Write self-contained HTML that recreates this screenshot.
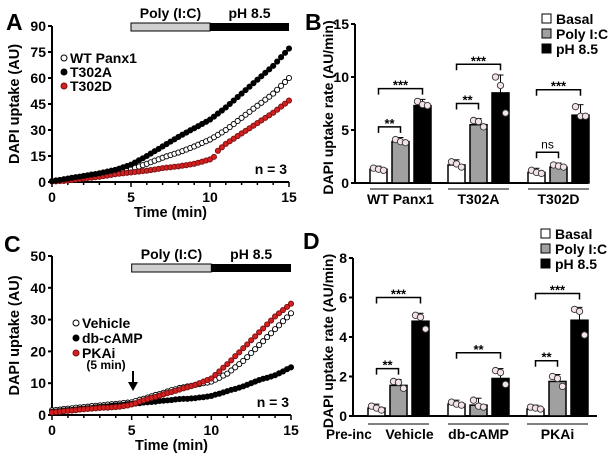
<!DOCTYPE html>
<html><head><meta charset="utf-8"><style>
html,body{margin:0;padding:0;background:#fff;}
svg{display:block;font-family:"Liberation Sans",Arial,sans-serif;font-weight:bold;}
</style></head><body>
<svg id="fig" width="608" height="460" viewBox="0 0 608 460" xmlns="http://www.w3.org/2000/svg"></svg>
<script>
// ---------- DATA ----------
const timeStep = 0.25;
const aWT = [0.5,0.7,0.9,1.1,1.4,1.6,1.9,2.1,2.4,2.8,3.1,3.5,3.9,4.3,4.7,5.1,5.5,6.0,6.5,7.0,7.5,8.2,8.9,9.7,10.5,11.4,12.3,13.1,14.0,14.8,15.5,16.3,17.0,17.8,18.7,19.6,20.5,21.5,22.5,23.5,24.5,25.8,27.2,28.6,30.0,31.7,33.4,35.2,37.0,38.8,40.5,42.3,44.0,45.7,47.5,49.2,51.0,53.2,55.5,57.7,60];
const aT302A = [0.5,0.9,1.2,1.6,2.0,2.4,2.8,3.1,3.5,3.9,4.3,4.6,5.0,5.5,6.0,6.5,7.0,7.7,8.5,9.2,10.0,11.2,12.5,13.7,15.0,16.4,17.8,19.1,20.5,21.9,23.3,24.6,26.0,27.3,28.5,29.8,31.0,32.2,33.5,34.7,36.0,37.7,39.5,41.2,43.0,45.0,47.0,49.0,51.0,53.0,55.0,57.0,59.0,61.0,63.0,65.0,67.0,69.5,72.0,74.5,77];
const aT302D = [0.3,0.4,0.5,0.6,0.8,1.1,1.4,1.7,2.0,2.3,2.5,2.8,3.0,3.4,3.7,4.1,4.5,4.8,5.0,5.3,5.5,5.8,6.0,6.3,6.5,6.9,7.2,7.6,8.0,8.3,8.5,8.8,9.0,9.4,9.7,10.1,10.5,11.1,11.7,12.4,13.0,14.5,18.0,20.0,22.0,23.5,25.0,26.5,28.0,29.5,31.0,32.5,34.0,35.5,37.0,38.5,40.0,41.7,43.5,45.2,47];
const cVehicle = [1.5,1.6,1.7,1.9,2.0,2.1,2.3,2.4,2.5,2.6,2.8,2.9,3.0,3.1,3.3,3.4,3.5,3.6,3.8,3.9,4.0,4.4,4.8,5.1,5.5,5.9,6.3,6.6,7.0,7.4,7.8,8.1,8.5,8.7,9.0,9.2,9.5,9.7,10.0,10.2,10.5,11.1,11.7,12.4,13.0,14.0,15.0,16.0,17.0,18.2,19.5,20.7,22.0,23.2,24.5,25.7,27.0,28.2,29.5,30.7,32];
const cDbcAMP = [1.0,1.1,1.2,1.4,1.5,1.6,1.7,1.9,2.0,2.1,2.2,2.4,2.5,2.6,2.7,2.9,3.0,3.1,3.2,3.4,3.5,3.6,3.7,3.9,4.0,4.1,4.2,4.4,4.5,4.6,4.7,4.9,5.0,5.1,5.1,5.2,5.3,5.5,5.6,5.8,6.0,6.4,6.7,7.1,7.5,7.9,8.2,8.6,9.0,9.5,10.0,10.5,11.0,11.4,11.7,12.1,12.5,13.1,13.7,14.4,15];
const cPKAi = [0.8,0.9,1.0,1.2,1.3,1.4,1.5,1.7,1.8,1.9,2.0,2.1,2.2,2.3,2.3,2.4,2.5,2.6,2.8,3.0,3.3,3.7,4.2,4.6,5.0,5.4,5.7,6.1,6.5,6.9,7.2,7.6,8.0,8.4,8.7,9.1,9.5,10.0,10.5,11.0,11.5,12.6,13.7,14.9,16.0,17.2,18.5,19.7,21.0,22.2,23.5,24.7,26.0,27.2,28.5,29.7,31.0,32.0,33.0,34.0,35];
const xTicks = [0,5,10,15];
const aYTicks = [0,15,30,45,60,75,90];
const cYTicks = [0,10,20,30,40,50];

const bGroups = ["WT Panx1","T302A","T302D"];
const bBasal = [1.3,1.7,1.0];
const bPoly = [3.9,5.5,1.5];
const bPH = [7.3,8.5,6.4];
const bDotsBasal = [[1.4,1.3,1.2],[2.0,1.8,1.5],[1.2,1.0,0.9]];
const bDotsPoly = [[4.1,3.9,3.8],[5.9,5.8,5.3],[1.7,1.6,1.5]];
const bDotsPH = [[7.7,7.4,7.3],[10.0,9.2,6.6],[7.2,6.3,6.3]];
const bYTicks = [0,5,10,15];
const bSig = [["**",0,1,5.3],["***",0,2,8.9],["**",0,1,7.5],["***",0,2,11.2],["ns",0,1,2.9],["***",0,2,8.8]];
const bSigGroup = [0,0,1,1,2,2];

const dGroups = ["Vehicle","db-cAMP","PKAi"];
const dBasal = [0.4,0.6,0.35];
const dPoly = [1.55,0.55,1.75];
const dPH = [4.8,1.9,4.85];
const dDotsBasal = [[0.5,0.4,0.3],[0.7,0.6,0.55],[0.45,0.4,0.35]];
const dDotsPoly = [[1.75,1.7,1.4],[0.8,0.5,0.45],[2.0,1.9,1.5]];
const dDotsPH = [[5.1,5.0,4.4],[2.3,2.2,1.6],[5.4,5.3,4.1]];
const dYTicks = [0,2,4,6,8];
const dSig = [["**",0,1,2.4],["***",0,2,6.0],["**",0,2,3.2],["**",0,1,2.8],["***",0,2,6.2]];
const dSigGroup = [0,0,1,2,2];

// ---------- HELPERS ----------
const NS="http://www.w3.org/2000/svg";
const fig=document.getElementById('fig');
function mk(tag,attrs,parent,txt){const e=document.createElementNS(NS,tag);for(const k in attrs)e.setAttribute(k,attrs[k]);if(txt!==undefined)e.textContent=txt;(parent||fig).appendChild(e);return e;}
function grp(name,parent){const g=mk('g',{},parent);return g;}
function txt(g,x,y,s,size,anchor,name,extra){const t=mk('text',Object.assign({x:x,y:y,'font-size':size,'text-anchor':anchor||'middle'},extra||{}),g,s);return t;}

function lineChart(cfg){
  const g=grp(cfg.name);
  const sx=v=>cfg.x0+(v/15)*(cfg.x1-cfg.x0);
  const sy=v=>cfg.yb-(v/cfg.ymax)*(cfg.yb-cfg.yt);
  const ax=mk('line',{x1:cfg.x0,y1:cfg.yt,x2:cfg.x0,y2:cfg.yb,stroke:'#000','stroke-width':2},g);
  
  const bx=mk('line',{x1:cfg.x0,y1:cfg.yb,x2:cfg.x1,y2:cfg.yb,stroke:'#000','stroke-width':2},g);
  
  cfg.yTicks.forEach(v=>{mk('line',{x1:cfg.x0-4,y1:sy(v),x2:cfg.x0,y2:sy(v),stroke:'#000','stroke-width':2},g);
    txt(g,cfg.x0-6,sy(v)+5,String(v),14,'end','y-tick-label');});
  for(let m=0;m<=15;m++){const major=xTicks.indexOf(m)>=0;mk('line',{x1:sx(m),y1:cfg.yb,x2:sx(m),y2:cfg.yb+(major?5:3),stroke:'#000','stroke-width':1.5},g);}
  xTicks.forEach(v=>txt(g,sx(v),cfg.yb+20,String(v),14,'middle','x-tick-label'));
  txt(g,(cfg.x0+cfg.x1)/2,cfg.yb+35,'Time (min)',14.5,'middle','x-axis-title');
  txt(g,0,0,'DAPI uptake (AU)',14.5,'middle','y-axis-title',{transform:`translate(${cfg.ytx},${(cfg.yt+cfg.yb)/2}) rotate(-90)`});
  const p=mk('rect',{x:sx(5),y:cfg.barY,width:sx(10)-sx(5),height:8,fill:'#cfcfcf',stroke:'#000','stroke-width':1},g);
  
  const h=mk('rect',{x:sx(10),y:cfg.barY,width:sx(15)-sx(10),height:8,fill:'#000'},g);
  
  txt(g,(sx(5)+sx(10))/2,cfg.barY-5,'Poly (I:C)',14,'middle','poly-ic-label');
  txt(g,(sx(10)+sx(15))/2,cfg.barY-5,'pH 8.5',14,'middle','ph-label');
  txt(g,cfg.x1-2,cfg.yb-8,'n = 3',14,'end','n-label');
  cfg.series.forEach(s=>{
    const sg=grp('series-'+s.key,g);
    s.data.forEach((v,i)=>{const c=mk('circle',{cx:sx(i*timeStep),cy:sy(v),r:2.6,fill:s.fill,stroke:s.stroke,'stroke-width':0.9},sg);
      });
  });
  cfg.legend.forEach((s,i)=>{const lg=grp('legend-entry',g);
    mk('circle',{cx:cfg.lx,cy:cfg.ly+i*cfg.lstep-5,r:3,fill:s.fill,stroke:s.stroke,'stroke-width':1},lg);
    txt(lg,cfg.lx+6,cfg.ly+i*cfg.lstep,s.label,14,'start','legend-label');});
  return {g,sx,sy};
}

function barChart(cfg){
  const g=grp(cfg.name);
  const sy=v=>cfg.yb-(v/cfg.ymax)*(cfg.yb-cfg.yt);
  const ax=mk('line',{x1:cfg.x0,y1:cfg.yt,x2:cfg.x0,y2:cfg.yb,stroke:'#000','stroke-width':2},g);
  
  const bx=mk('line',{x1:cfg.x0,y1:cfg.yb,x2:cfg.x1,y2:cfg.yb,stroke:'#000','stroke-width':2},g);
  
  cfg.yTicks.forEach(v=>{mk('line',{x1:cfg.x0-4,y1:sy(v),x2:cfg.x0,y2:sy(v),stroke:'#000','stroke-width':2},g);
    txt(g,cfg.x0-6,sy(v)+5,String(v),14,'end','y-tick-label');});
  txt(g,0,0,'DAPI uptake rate (AU/min)',14,'middle','y-axis-title',{transform:`translate(${cfg.ytx},${(cfg.yt+cfg.yb)/2+4}) rotate(-90)`});
  const fills=['#fff','#a0a0a0','#000'];
  const series=[cfg.basal,cfg.poly,cfg.ph], dots=[cfg.dBasal,cfg.dPoly,cfg.dPH], keys=['basal','poly','ph'];
  const bw=17, step=22;
  const bxPos=(gi,si)=>cfg.gx[gi]+si*step;
  cfg.groups.forEach((name,gi)=>{
    const gg=grp('group-'+name.toLowerCase().replace(/\s+/g,'-'),g);
    series.forEach((arr,si)=>{
      const x=bxPos(gi,si), v=arr[gi];
      const r=mk('rect',{x:x,y:sy(v),width:bw,height:sy(0)-sy(v),fill:fills[si],stroke:'#000','stroke-width':1.5},gg);
      
      const mx=Math.max(...dots[si][gi]);
      mk('line',{x1:x+bw/2,y1:sy(v),x2:x+bw/2,y2:sy(mx)-2,stroke:'#000','stroke-width':1},gg);
      mk('line',{x1:x+bw/2-3,y1:sy(mx)-2,x2:x+bw/2+3,y2:sy(mx)-2,stroke:'#000','stroke-width':1},gg);
      dots[si][gi].forEach((d,k)=>{const c=mk('circle',{cx:x+bw/2-5+k*5,cy:sy(d),r:3.2,fill:'#f3e3e7',stroke:'#333','stroke-width':0.9},gg);
        });
    });
    mk('line',{x1:cfg.gx[gi],y1:cfg.ulY,x2:cfg.gx[gi]+2*step+bw,y2:cfg.ulY,stroke:'#000','stroke-width':1},gg);
    txt(gg,cfg.gx[gi]+step+bw/2+(cfg.labelShift?cfg.labelShift[gi]:0),cfg.ulY+15,name,14,'middle','group-label');
  });
  cfg.sig.forEach((s,i)=>{const gi=cfg.sigGroup[i];const sgp=grp('significance-bracket',g);
    const x1=bxPos(gi,s[1])+bw/2,x2=bxPos(gi,s[2])+bw/2,y=sy(s[3]);
    mk('path',{d:`M${x1},${y+6}V${y}H${x2}V${y+6}`,fill:'none',stroke:'#000','stroke-width':1.5},sgp);
    txt(sgp,(x1+x2)/2,s[0]==='ns'?y-4:y+1,s[0],s[0]==='ns'?12:13,'middle','significance-label',{'font-weight':s[0]==='ns'?'normal':'bold'});});
  ['Basal','Poly I:C','pH 8.5'].forEach((l,i)=>{const lg=grp('legend-entry',g);
    mk('rect',{x:cfg.lx,y:cfg.ly+i*15-10,width:9,height:9,fill:fills[i],stroke:'#000','stroke-width':1},lg);
    txt(lg,cfg.lx+14,cfg.ly+i*15,l,14,'start','legend-label');});
  return g;
}

// ---------- PANELS ----------
const ser=(key,data,fill,stroke,label)=>({key,data,fill,stroke,label});
const A=lineChart({name:'panel-a-chart',x0:52,x1:289,yt:26,yb:182,ymax:90,yTicks:aYTicks,ytx:19,barY:23,
  series:[ser('wt-panx1',aWT,'#fff','#000','WT Panx1'),ser('t302d',aT302D,'#d42020','#7a1010','T302D'),ser('t302a',aT302A,'#000','#000','T302A')],
  legend:[ser('wt',aWT,'#fff','#000','WT Panx1'),ser('a',aT302A,'#000','#000','T302A'),ser('d',aT302D,'#d42020','#7a1010','T302D')],lx:64,ly:63,lstep:14});
const C=lineChart({name:'panel-c-chart',x0:52,x1:291,yt:256,yb:415,ymax:50,yTicks:cYTicks,ytx:19,barY:264,
  series:[ser('vehicle',cVehicle,'#fff','#000','Vehicle'),ser('db-camp',cDbcAMP,'#000','#000','db-cAMP'),ser('pkai',cPKAi,'#d42020','#7a1010','PKAi')],
  legend:[ser('v',cVehicle,'#fff','#000','Vehicle'),ser('db',cDbcAMP,'#000','#000','db-cAMP'),ser('p',cPKAi,'#d42020','#7a1010','PKAi')],lx:76,ly:328,lstep:15});
txt(C.g,106,369,'(5 min)',12,'middle','pre-incubation-note');
const arr=grp('arrow-5min',C.g);
mk('line',{x1:133,y1:371,x2:133,y2:384,stroke:'#000','stroke-width':2},arr);
mk('path',{d:'M128,382 L138,382 L133,391 Z',fill:'#000'},arr);

barChart({name:'panel-b-chart',x0:355,x1:588,yt:24,yb:183,ymax:15,yTicks:bYTicks,ytx:333,groups:bGroups,gx:[370,448,528],
  basal:bBasal,poly:bPoly,ph:bPH,dBasal:bDotsBasal,dPoly:bDotsPoly,dPH:bDotsPH,sig:bSig,sigGroup:bSigGroup,ulY:189,lx:542,ly:24});
barChart({name:'panel-d-chart',x0:353,x1:597,yt:258,yb:416,ymax:8,yTicks:dYTicks,ytx:333,groups:dGroups,gx:[368,448,527],labelShift:[11,0,0],
  basal:dBasal,poly:dPoly,ph:dPH,dBasal:dDotsBasal,dPoly:dDotsPoly,dPH:dDotsPH,sig:dSig,sigGroup:dSigGroup,ulY:424,lx:541,ly:239});
const pre=grp('pre-inc-label');
txt(pre,326,439,'Pre-inc',13.5,'start','pre-inc-label');

const L=grp('panel-letters');
txt(L,6,30,'A',23,'start','panel-letter-a');
txt(L,305,30,'B',23,'start','panel-letter-b');
txt(L,4,252,'C',23,'start','panel-letter-c');
txt(L,303,249,'D',23,'start','panel-letter-d');
</script>
</body></html>
